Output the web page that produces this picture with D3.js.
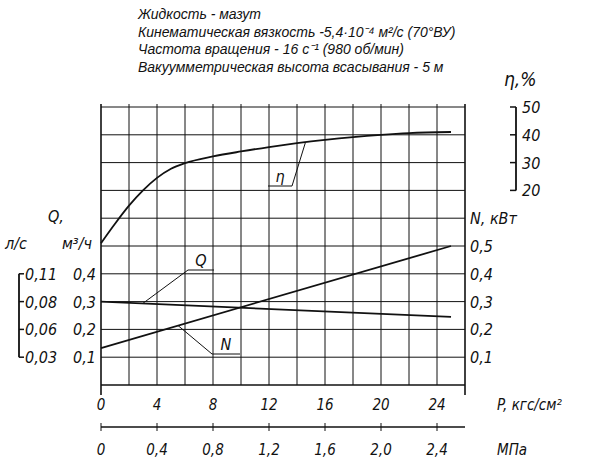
<!DOCTYPE html><html><head><meta charset="utf-8"><script src="https://d3js.org/d3.v7.min.js"></script>
<style>body{margin:0;background:#fff}text{font-family:"Liberation Sans Narrow","DejaVu Sans Condensed",sans-serif;font-style:italic;fill:#111}.t{font-family:"Liberation Sans",sans-serif;font-size:14px}</style></head><body>
<svg id="c" width="600" height="469"></svg>
<script>
const titles=["Жидкость - мазут","Кинематическая вязкость -5,4·10⁻⁴ м²/с (70°ВУ)","Частота вращения - 16 с⁻¹ (980 об/мин)","Вакуумметрическая высота всасывания - 5 м"];
const pTicks=[0,4,8,12,16,20,24];
const mpaLabels=["0","0,4","0,8","1,2","1,6","2,0","2,4"];
const qTicks=[0.1,0.2,0.3,0.4];
const qlsLabels=["0,11","0,08","0,06","0,03"];
const nTicks=[0.1,0.2,0.3,0.4,0.5];
const etaTicks=[20,30,40,50];
const etaP=[0,1,2,3,4,5,6,8,10,12,14,16,18,20,22,25];
const etaV=[1,8,14.5,20,24.5,27.8,29.8,32.2,34,35.6,37,38.2,39.2,40,40.6,41];
const lineP=[0,25];
const qV=[0.30,0.245];
const nV=[0.133,0.5];

const svg=d3.select("#c");
const x=d3.scaleLinear().domain([0,26]).range([101,465]);
const y=d3.scaleLinear().domain([0,1]).range([385,107]);
const ye=d3.scaleLinear().domain([0,50]).range([246,107]);
const bk="#111";
titles.forEach((t,i)=>svg.append("text").attr("class","t").attr("x",138).attr("y",19+i*17.5).text(t));
for(let v=0;v<=26;v+=2)svg.append("line").attr("x1",x(v)).attr("x2",x(v)).attr("y1",y(1)-3).attr("y2",y(0)+(v==0||v==26?10:0)).attr("stroke",bk).attr("stroke-width",v==0||v==26?1.6:1);
for(let i=0;i<=10;i++)svg.append("line").attr("x1",x(0)).attr("x2",x(26)).attr("y1",y(i/10)).attr("y2",y(i/10)).attr("stroke",bk).attr("stroke-width",i==0?1.6:1);
const ln=d3.line().x(d=>x(d[0])).y(d=>d[1]);
svg.append("path").attr("d",d3.line().curve(d3.curveMonotoneX).x(d=>x(d[0])).y(d=>d[1])(etaP.map((p,i)=>[p,ye(etaV[i])]))).attr("fill","none").attr("stroke",bk).attr("stroke-width",1.8);
svg.append("path").attr("d",ln(lineP.map((p,i)=>[p,y(qV[i])]))).attr("fill","none").attr("stroke",bk).attr("stroke-width",1.8);
svg.append("path").attr("d",ln(lineP.map((p,i)=>[p,y(nV[i])]))).attr("fill","none").attr("stroke",bk).attr("stroke-width",1.8);
function leader(xs,yl,x2,p,val,lab){svg.append("polyline").attr("points",`${x2},${yl} ${xs},${yl} ${x(p)},${val}`).attr("fill","none").attr("stroke",bk).attr("stroke-width",1);
svg.append("text").attr("x",(xs+x2)/2).attr("y",yl-4).attr("text-anchor","middle").attr("font-size",16).text(lab);}
leader(292,186,268,14.6,ye(37.2),"η");
leader(188,270,214,3,y(0.294),"Q");
leader(212,354,240,5.5,y(0.214),"N");
pTicks.forEach((p,i)=>{svg.append("text").attr("x",x(p)).attr("y",410).attr("text-anchor","middle").attr("font-size",15).text(p);
svg.append("line").attr("x1",x(p)).attr("x2",x(p)).attr("y1",423).attr("y2",431).attr("stroke",bk);
svg.append("text").attr("x",x(p)).attr("y",455).attr("text-anchor","middle").attr("font-size",15).text(mpaLabels[i]);});
svg.append("line").attr("x1",x(0)).attr("x2",x(26)).attr("y1",427).attr("y2",427).attr("stroke",bk).attr("stroke-width",1.6);
svg.append("text").attr("x",497).attr("y",410).attr("font-size",15).text("P,  кгс/см²");
svg.append("text").attr("x",497).attr("y",455).attr("font-size",15).text("МПа");
qTicks.forEach((q,i)=>{svg.append("text").attr("x",96).attr("y",y(q)+6).attr("text-anchor","end").attr("font-size",16).text(String(q).replace(".",","));
svg.append("text").attr("x",25).attr("y",y(0.4-i*0.1)+6).attr("font-size",16).text(qlsLabels[i]);
svg.append("line").attr("x1",19).attr("x2",24).attr("y1",y(0.4-i*0.1)).attr("y2",y(0.4-i*0.1)).attr("stroke",bk).attr("stroke-width",1.5);});
svg.append("line").attr("x1",19).attr("x2",19).attr("y1",y(0.4)).attr("y2",y(0.1)).attr("stroke",bk).attr("stroke-width",1.8);
svg.append("text").attr("x",48).attr("y",222).attr("font-size",16).text("Q,");
svg.append("text").attr("x",5).attr("y",249).attr("font-size",16).text("л/с");
svg.append("text").attr("x",62).attr("y",249).attr("font-size",16).text("м³/ч");
nTicks.forEach(n=>svg.append("text").attr("x",470).attr("y",y(n)+6).attr("font-size",16).text(String(n).replace(".",",")));
svg.append("text").attr("x",470).attr("y",224).attr("font-size",16).text("N, кВт");
etaTicks.forEach(e=>{svg.append("text").attr("x",522).attr("y",ye(e)+6).attr("font-size",16).text(e);
svg.append("line").attr("x1",510).attr("x2",516).attr("y1",ye(e)).attr("y2",ye(e)).attr("stroke",bk).attr("stroke-width",1.5);});
svg.append("line").attr("x1",516).attr("x2",516).attr("y1",ye(50)).attr("y2",ye(20)).attr("stroke",bk).attr("stroke-width",1.8);
svg.append("text").attr("x",504).attr("y",86).attr("font-size",19).text("η,%");
</script></body></html>
